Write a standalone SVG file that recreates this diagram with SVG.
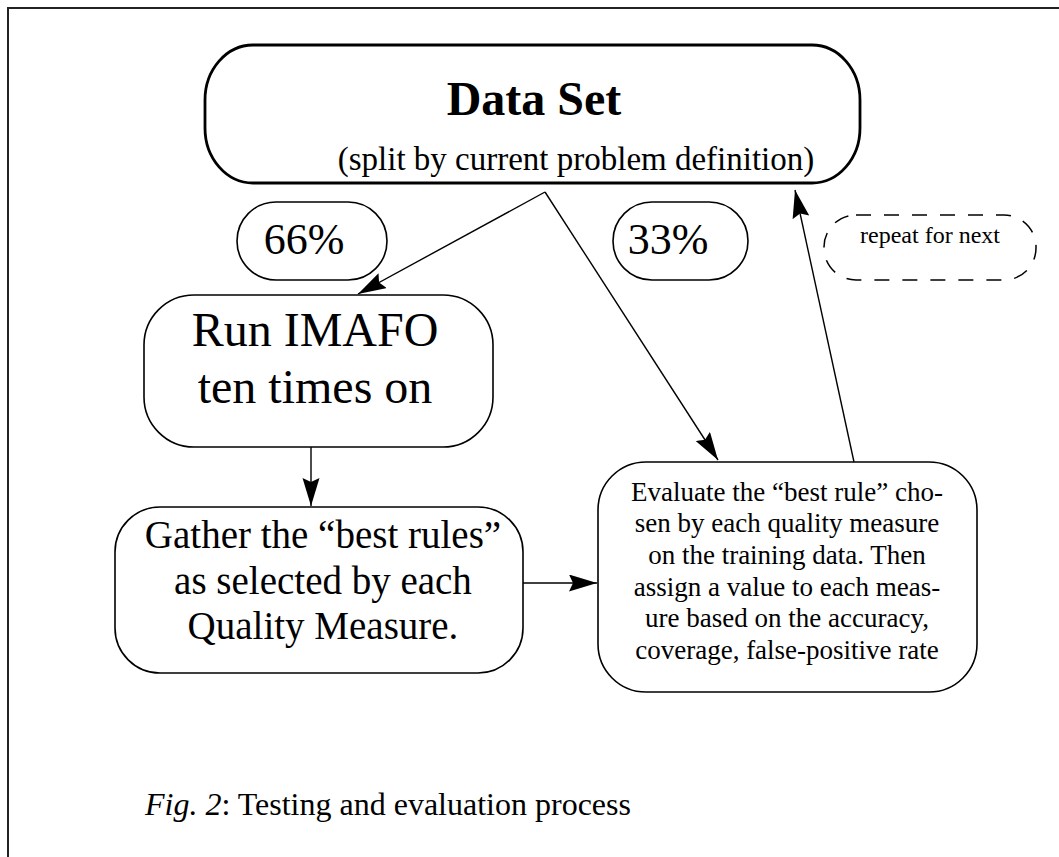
<svg xmlns="http://www.w3.org/2000/svg" width="1059" height="857" viewBox="0 0 1059 857">
<style>
text{font-family:"Liberation Serif","Times New Roman",serif;fill:#000}
.box{fill:#fff;stroke:#000;stroke-width:1.6}
.thick{stroke-width:2.8}
.edge{fill:none;stroke:#000;stroke-width:1.4}
.c{text-anchor:middle}
</style>
<defs>
<marker id="ah" markerUnits="userSpaceOnUse" markerWidth="30" markerHeight="18" refX="28" refY="8.5" orient="auto">
<path d="M0,0 L28,8.5 L0,17 L4,8.5 Z" fill="#000"/>
</marker>
</defs>
<rect width="1059" height="857" fill="#fff"/>
<path d="M8,857 V8 H1059" fill="none" stroke="#222" stroke-width="2"/>
<g id="dataset">
<rect class="box thick" x="205" y="45" width="655" height="138" rx="48" ry="55"/>
<text class="c" x="534" y="115" font-size="48" font-weight="bold">Data Set</text>
<text class="c" x="576" y="170" font-size="33">(split by current problem definition)</text>
</g>
<g id="p66">
<rect class="box" x="237" y="202" width="150" height="78" rx="39"/>
<text class="c" x="304" y="254" font-size="44">66%</text>
</g>
<g id="p33">
<rect class="box" x="613" y="202" width="135" height="78" rx="39"/>
<text class="c" x="668" y="254" font-size="44">33%</text>
</g>
<g id="repeat">
<rect x="824" y="215" width="212" height="65" rx="32" fill="none" stroke="#000" stroke-width="1.5" stroke-dasharray="15,13"/>
<text class="c" x="930" y="243" font-size="24">repeat for next</text>
</g>
<g id="run">
<rect class="box" x="144" y="295" width="349" height="152" rx="50"/>
<text class="c" x="315" y="346" font-size="48">Run IMAFO</text>
<text class="c" x="315" y="403" font-size="48">ten times on</text>
</g>
<g id="gather">
<rect class="box" x="115" y="507" width="408" height="166" rx="45"/>
<text class="c" x="323" y="548" font-size="39">Gather the “best rules”</text>
<text class="c" x="323" y="594" font-size="39">as selected by each</text>
<text class="c" x="323" y="639" font-size="39">Quality Measure.</text>
</g>
<g id="evaluate">
<rect class="box" x="598" y="462" width="379" height="230" rx="48"/>
<g font-size="27">
<text class="c" x="787" y="501">Evaluate the “best rule” cho-</text>
<text class="c" x="787" y="532">sen by each quality measure</text>
<text class="c" x="787" y="564">on the training data. Then</text>
<text class="c" x="787" y="596">assign a value to each meas-</text>
<text class="c" x="787" y="627">ure based on the accuracy,</text>
<text class="c" x="787" y="659">coverage, false-positive rate</text>
</g>
</g>
<g id="connectors">
<line class="edge" x1="545" y1="192" x2="358" y2="294" marker-end="url(#ah)"/>
<line class="edge" x1="545" y1="192" x2="718" y2="460" marker-end="url(#ah)"/>
<line class="edge" x1="854" y1="462" x2="795" y2="190" marker-end="url(#ah)"/>
<line class="edge" x1="311" y1="447" x2="311" y2="506" marker-end="url(#ah)"/>
<line class="edge" x1="523" y1="583" x2="597" y2="583" marker-end="url(#ah)"/>
</g>
<g id="caption" font-size="32">
<text x="145" y="815"><tspan font-style="italic">Fig. 2</tspan>: Testing and evaluation process</text>
</g>
</svg>
